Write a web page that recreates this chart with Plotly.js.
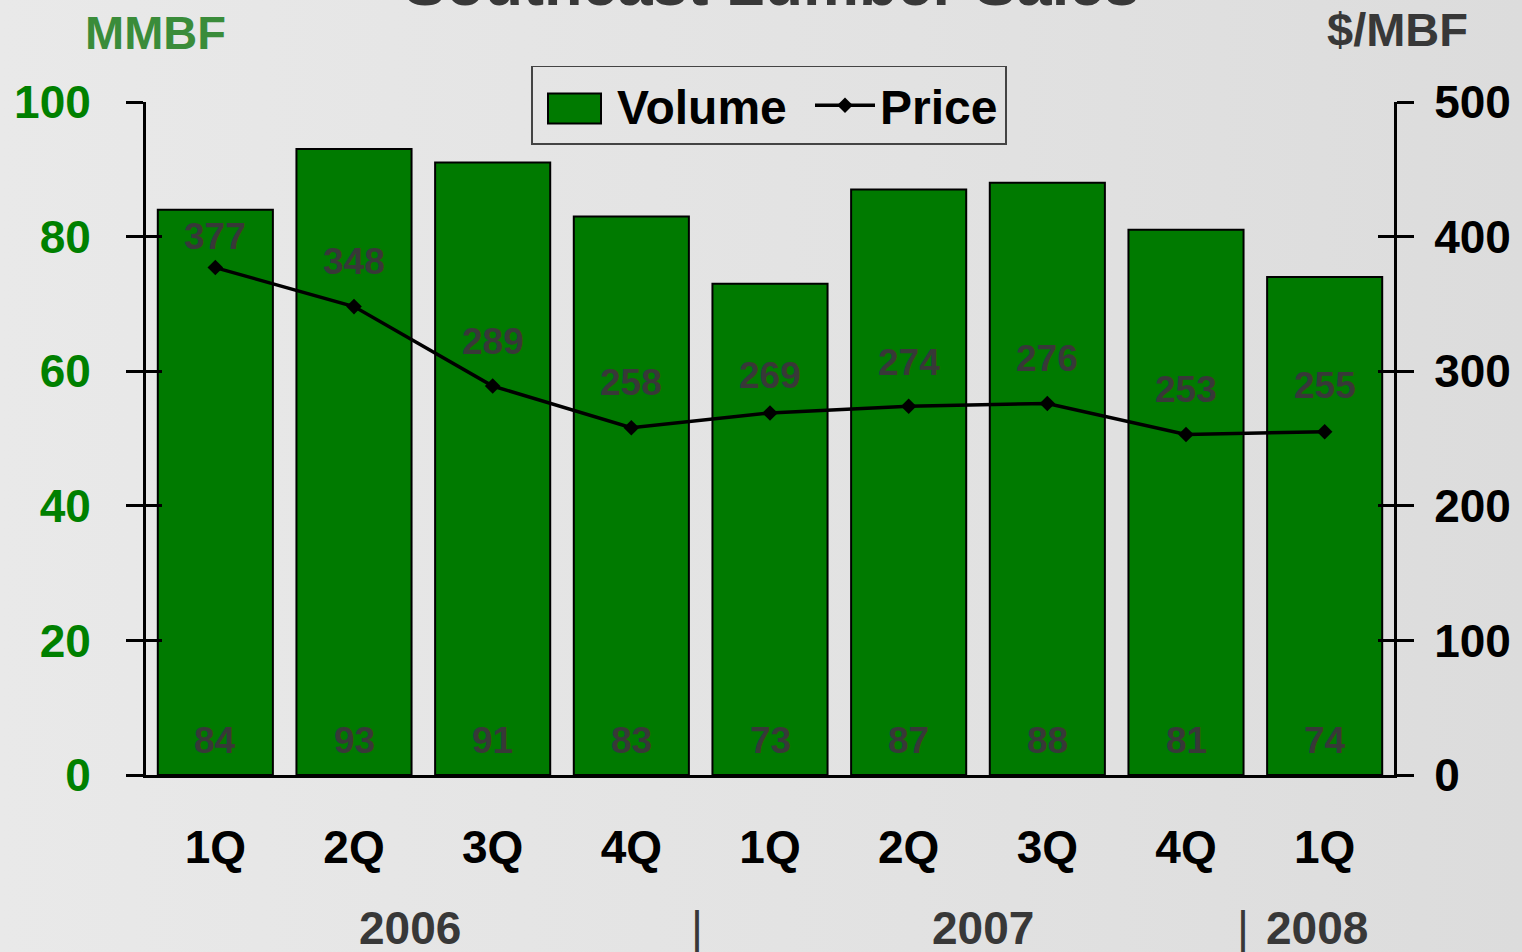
<!DOCTYPE html>
<html>
<head>
<meta charset="utf-8">
<script src="https://cdn.plot.ly/plotly-3.0.1.min.js"></script>
<style>
  html, body { margin: 0; padding: 0; }
  body { width: 1522px; height: 952px; background: linear-gradient(to right, #e9e9e9 0%, #e2e2e2 60%, #dcdcdc 100%); overflow: hidden; }
  #chart { width: 1522px; height: 952px; }
</style>
</head>
<body>
<div id="chart"></div>
<script>
const quarters = ['1Q', '2Q', '3Q', '4Q', '1Q', '2Q', '3Q', '4Q', '1Q'];
const quarterYears = ['2006', '2006', '2006', '2006', '2007', '2007', '2007', '2007', '2008'];
const volume = [84, 93, 91, 83, 73, 87, 88, 81, 74];
const price = [377, 348, 289, 258, 269, 274, 276, 253, 255];
const leftTicks = [0, 20, 40, 60, 80, 100];
const rightTicks = [0, 100, 200, 300, 400, 500];

// label offsets above the price points (pixels, styling only)
const priceLabelOffset = [31, 45, 45, 45, 37, 44, 45, 45, 46];

const FONT = 'Liberation Sans, Arial, Helvetica, sans-serif';
const xIdx = quarters.map((q, i) => i);

// year groups
const years = [...new Set(quarterYears)];
const yearGroups = years.map(y => {
  const idx = quarterYears.map((v, i) => v === y ? i : -1).filter(i => i >= 0);
  return { year: y, start: Math.min(...idx), end: Math.max(...idx) };
});
const yearShift = [-13, 5, -8];
const sepShift = [-4, -12];

const annotations = [];
// volume labels at base of bars
volume.forEach((v, i) => {
  annotations.push({
    x: xIdx[i], y: 0, xref: 'x', yref: 'y', text: String(v),
    showarrow: false, yanchor: 'bottom', yshift: 12,
    font: { family: FONT, size: 37, color: '#383838', weight: 700 }
  });
});
// price labels above points
price.forEach((p, i) => {
  annotations.push({
    x: xIdx[i], y: p, xref: 'x', yref: 'y2', text: String(p),
    showarrow: false, yanchor: 'middle', yshift: priceLabelOffset[i],
    font: { family: FONT, size: 37, color: '#383838', weight: 700 }
  });
});
// year labels
yearGroups.forEach((g, k) => {
  annotations.push({
    x: (g.start + g.end) / 2, y: 0, xref: 'x', yref: 'paper', text: g.year,
    showarrow: false, yanchor: 'top', yshift: -125, xshift: yearShift[k],
    font: { family: FONT, size: 46, color: '#383838', weight: 700 }
  });
  if (k < yearGroups.length - 1) {
    annotations.push({
      x: g.end + 0.5, y: 0, xref: 'x', yref: 'paper', text: '|',
      showarrow: false, yanchor: 'top', yshift: -125, xshift: sepShift[k],
      font: { family: FONT, size: 46, color: '#383838', weight: 400 }
    });
  }
});
// unit labels and cut-off title
annotations.push({
  x: 0.008, y: 1.104, xref: 'paper', yref: 'paper', text: 'MMBF', showarrow: false,
  xanchor: 'center', yanchor: 'middle',
  font: { family: FONT, size: 47, color: '#3a8c3a', weight: 700 }
});
annotations.push({
  x: 1.003, y: 1.107, xref: 'paper', yref: 'paper', text: '$/MBF', showarrow: false,
  xanchor: 'center', yanchor: 'middle',
  font: { family: FONT, size: 47, color: '#383838', weight: 700 }
});
annotations.push({
  x: 0.501, y: 1.122, xref: 'paper', yref: 'paper', text: 'Southeast Lumber Sales', showarrow: false,
  xanchor: 'center', yanchor: 'bottom',
  font: { family: FONT, size: 63, color: '#383838', weight: 700 }
});

const traces = [
  {
    type: 'bar', name: 'Volume', x: xIdx, y: volume, yaxis: 'y',
    marker: { color: '#007a00', line: { color: '#000', width: 2 } },
    hoverinfo: 'y'
  },
  {
    type: 'scatter', mode: 'lines+markers', name: 'Price', x: xIdx, y: price, yaxis: 'y2',
    line: { color: '#000', width: 3.5 },
    marker: { symbol: 'diamond', size: 12, color: '#000' },
    cliponaxis: false
  },
  // invisible helper traces for inside tick halves
  { type: 'scatter', x: [0], y: [0], yaxis: 'y3', mode: 'markers', marker: { opacity: 0 }, showlegend: false, hoverinfo: 'skip' },
  { type: 'scatter', x: [0], y: [0], yaxis: 'y4', mode: 'markers', marker: { opacity: 0 }, showlegend: false, hoverinfo: 'skip' }
];

const layout = {
  width: 1522, height: 952,
  paper_bgcolor: 'rgba(0,0,0,0)', plot_bgcolor: 'rgba(0,0,0,0)',
  margin: { l: 146, r: 128, t: 102, b: 177 },
  font: { family: FONT, weight: 700 },
  bargap: 0.17,
  showlegend: true,
  legend: {
    orientation: 'h', x: 0.3085, y: 1.0535, xanchor: 'left', yanchor: 'top',
    bgcolor: 'rgba(0,0,0,0)', bordercolor: '#444', borderwidth: 1.5,
    font: { family: FONT, size: 48, color: '#000', weight: 700 },
    itemwidth: 60, traceorder: 'normal'
  },
  xaxis: {
    range: [-0.5, quarters.length - 0.5],
    tickvals: xIdx, ticktext: quarters,
    ticks: '', showline: true, linecolor: '#000', linewidth: 3,
    showgrid: false, zeroline: false,
    tickfont: { family: FONT, size: 46, color: '#000', weight: 700 },
    ticklabelstandoff: 30
  },
  yaxis: {
    range: [0, 100], tickvals: leftTicks, ticks: 'outside', ticklen: 17, tickwidth: 3, tickcolor: '#000',
    showline: true, linecolor: '#000', linewidth: 3, showgrid: false, zeroline: false,
    tickfont: { family: FONT, size: 46, color: '#008000', weight: 700 },
    ticklabelstandoff: 26
  },
  yaxis2: {
    range: [0, 500], tickvals: rightTicks, overlaying: 'y', side: 'right',
    ticks: 'outside', ticklen: 17, tickwidth: 3, tickcolor: '#000',
    showline: true, linecolor: '#000', linewidth: 3, showgrid: false, zeroline: false,
    tickfont: { family: FONT, size: 46, color: '#000', weight: 700 },
    ticklabelstandoff: 11
  },
  yaxis3: {
    range: [0, 100], tickvals: leftTicks, overlaying: 'y', side: 'left',
    ticks: 'inside', ticklen: 16, tickwidth: 3, tickcolor: '#000',
    showticklabels: false, showline: false, showgrid: false, zeroline: false
  },
  yaxis4: {
    range: [0, 500], tickvals: rightTicks, overlaying: 'y', side: 'right',
    ticks: 'inside', ticklen: 16, tickwidth: 3, tickcolor: '#000',
    showticklabels: false, showline: false, showgrid: false, zeroline: false
  },
  annotations: annotations
};

Plotly.newPlot('chart', traces, layout, { displayModeBar: false, staticPlot: true }).then(gd => {
  try {
    const items = gd.querySelectorAll('.legend .traces');
    // Volume entry: move its text right, then a wide swatch 42px left of the text
    const txt0 = items[0].querySelector('.legendtext');
    let t0 = txt0.getBoundingClientRect();
    const shiftText = 617 - t0.left;
    txt0.setAttribute('transform', 'translate(' + shiftText + ',0)');
    t0 = txt0.getBoundingClientRect();
    const swatch = items[0].querySelector('.legendpoints path');
    if (swatch) {
      swatch.setAttribute('d', 'M26.5,15H-26.5V-15H26.5Z');
      const sb = swatch.getBoundingClientRect();
      const cx = (sb.left + sb.right) / 2;
      const cy = (sb.top + sb.bottom) / 2;
      const tcy = (t0.top + t0.bottom) / 2;
      const dx = (t0.left - 42.5) - cx;
      const dy = (tcy + 1) - cy;
      swatch.setAttribute('transform', (swatch.getAttribute('transform') || '') + ' translate(' + dx + ',' + dy + ')');
    }
    // Price entry: line should start at x=815
    if (items[1]) {
      const ln = items[1].querySelector('.legendlines path') || items[1].querySelector('.legendpoints path');
      const lb = ln.getBoundingClientRect();
      const dx2 = 815 - lb.left;
      const tr = items[1].getAttribute('transform') || '';
      items[1].setAttribute('transform', tr + ' translate(' + dx2 + ',0)');
    }
    // legend box and its clip to reach x=1006
    const bg = gd.querySelector('.legend rect.bg');
    if (bg) {
      const lb = bg.getBoundingClientRect();
      const extra = 1006 - lb.right;
      bg.setAttribute('width', parseFloat(bg.getAttribute('width')) + extra);
      gd.querySelectorAll('clipPath[id^="legend"] rect').forEach(r => {
        r.setAttribute('width', parseFloat(r.getAttribute('width')) + extra + 20);
      });
    }
  } catch (e) { console.log(e); }
});
</script>
</body>
</html>
